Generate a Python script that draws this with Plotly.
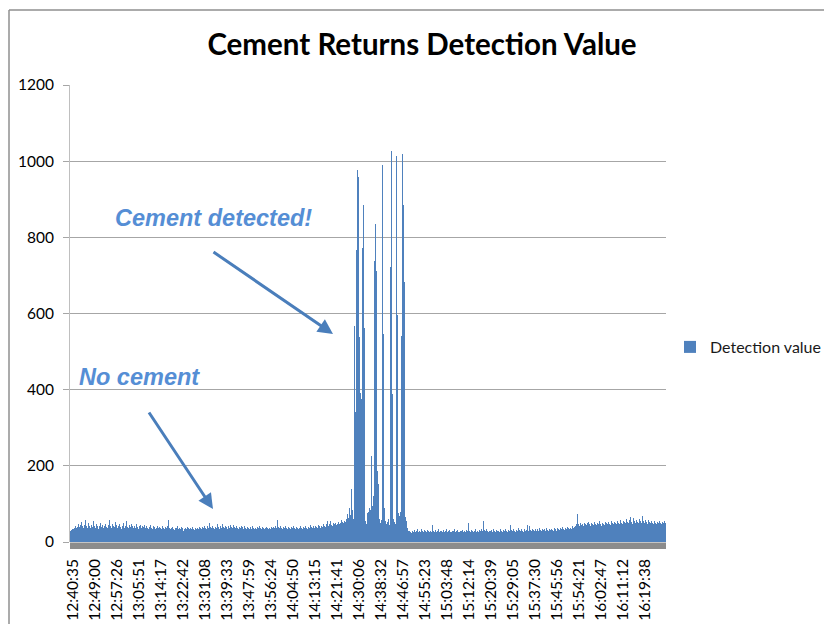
import plotly.graph_objects as go

# ---- tick labels (category axis, one label every 22 samples) ----
time_labels = ["12:40:35", "12:49:00", "12:57:26", "13:05:51", "13:14:17", "13:22:42",
               "13:31:08", "13:39:33", "13:47:59", "13:56:24", "14:04:50", "14:13:15",
               "14:21:41", "14:30:06", "14:38:32", "14:46:57", "14:55:23", "15:03:48",
               "15:12:14", "15:20:39", "15:29:05", "15:37:30", "15:45:56", "15:54:21",
               "16:02:47", "16:11:12", "16:19:38"]

# ---- detection values (one value per pixel column) ----
before_cement = [
    28, 31, 35, 33, 38, 42, 36, 40, 47, 39, 44, 52, 41, 37, 45, 58, 43, 38, 49, 41, 36, 44, 40, 55, 42,
    38, 46, 41, 35, 43, 50, 39, 44, 37, 42, 48, 40, 36, 45, 57, 41, 38, 47, 43, 39, 52, 44, 37, 41, 46,
    40, 35, 43, 49, 38, 42, 56, 40, 37, 44, 39, 46, 41, 36, 43, 38, 47, 40, 35, 42, 45, 37, 41, 39, 44,
    36, 41, 38, 33, 40, 44, 37, 35, 42, 39, 34, 38, 43, 36, 40, 37, 33, 41, 38, 35, 39, 36, 42, 59, 38,
    34, 37, 40, 35, 32, 38, 36, 41, 34, 37, 33, 39, 36, 30, 35, 38, 34, 40, 36, 33, 37, 35, 39, 34, 31,
    36, 33, 38, 35, 40, 37, 34, 39, 36, 42, 38, 35, 41, 37, 50, 39, 36, 43, 38, 34, 40, 37, 48, 39, 35,
    41, 38, 46, 40, 36, 43, 39, 35, 42, 38, 44, 40, 37, 45, 39, 36, 41, 38, 34, 40, 37, 43, 39, 35, 42,
    38, 34, 40, 36, 33, 39, 35, 41, 37, 34, 38, 35, 40, 36, 42, 38, 35, 39, 36, 33, 37, 40, 36, 34, 38,
    35, 39, 36, 40, 37, 42, 38, 57, 40, 36, 41, 38, 35, 39, 36, 43, 38, 34, 40, 37, 35, 39, 36, 41, 38,
    35, 39, 36, 33, 38, 41, 37, 34, 40, 36, 42, 38, 35, 39, 37, 44, 39, 36, 41, 38, 43, 40, 37, 45, 41,
    38, 43, 40, 46, 42, 39, 47, 56, 43, 48, 54, 45, 42, 49, 46, 51, 44, 48, 53, 47, 50, 58, 52, 49, 55,
]

cement_zone = [
    52, 60, 74, 62, 90, 70, 140, 85, 60,
    568, 342, 766, 976, 958, 537, 390, 375, 771, 884, 563,
    55, 48, 75, 80, 90, 85, 226, 95, 120, 739, 834, 711, 187, 152, 60, 50, 58,
    989, 547, 90, 55, 48, 52, 60, 45, 721, 1026, 389, 60, 52, 48, 1013, 595, 75, 68, 80,
    542, 1018, 884, 684, 65, 55, 38, 30, 28,
]

after_cement = [
    26, 24, 29, 27, 31, 25, 28, 33, 26, 30, 27, 35, 29, 25, 31, 28, 26, 32, 29, 27,
    30, 26, 44, 28, 25, 31, 27, 29, 33, 26, 28, 30, 25, 32, 27, 29, 34, 26, 28, 31,
    27, 25, 30, 28, 33, 26, 29, 31, 27, 25, 30, 28, 32, 26, 29, 27, 31, 28, 49, 30,
    27, 32, 28, 25, 30, 33, 27, 29, 26, 31, 28, 35, 30, 54, 31, 28, 33, 29, 26, 30,
    28, 31, 27, 34, 29, 26, 32, 28, 30, 27, 33, 29, 26, 31, 28, 35, 30, 27, 32, 29,
    45, 31, 28, 33, 30, 27, 32, 29, 36, 31, 28, 34, 30, 27, 33, 29, 31, 44, 30, 42,
    32, 29, 35, 31, 28, 34, 30, 33, 29, 36, 32, 29, 35, 31, 33, 30, 37, 32, 29, 34,
    31, 35, 32, 29, 36, 33, 30, 38, 34, 31, 36, 33, 39, 35, 32, 37, 34, 40, 36, 33,
    38, 35, 41, 37, 39, 43,
]

late_period = [
    48, 73, 46, 43, 50, 45, 48, 42, 51, 47, 44, 49, 53, 46, 43, 50, 47, 45, 52, 48,
    44, 50, 46, 55, 48, 43, 51, 47, 45, 53, 49, 46, 52, 48, 44, 56, 50, 47, 53, 49,
    46, 54, 50, 47, 58, 51, 48, 55, 52, 49, 60, 53, 50, 57, 66, 52, 48, 63, 55, 50,
    58, 53, 49, 61, 54, 51, 67, 55, 50, 57, 52, 48, 59, 53, 50, 56, 51, 47, 54, 50,
    46, 53, 49, 56, 51, 47, 52, 49, 54, 50,
]

values = before_cement + cement_zone + after_cement + late_period
sample_index = list(range(len(values)))
label_step = 22
label_positions = [2 + label_step * k for k in range(len(time_labels))]

BAR = "#4F81BD"
ANN_TEXT = "#558ED5"
ARROW = "#4A7EBB"

# the page body adds an 8 px margin; the figure is sized to end at the window edge
OFF = 8
FW, FH = 832 - OFF, 624 - OFF
PL, PT = 70 - OFF, 85 - OFF      # plot area left/top inside the figure
PW, PH = 596, 457

fig = go.Figure()
fig.add_trace(go.Bar(
    x=sample_index, y=values, name="Detection value",
    marker=dict(color=BAR, line=dict(width=0)),
    showlegend=True,
))

fig.update_layout(
    width=FW, height=FH, autosize=False,
    margin=dict(l=PL, r=FW - PL - PW, t=PT, b=FH - PT - PH, pad=0, autoexpand=False),
    paper_bgcolor="white", plot_bgcolor="white",
    bargap=0,
    showlegend=True,
    title=dict(text="<b>Cement Returns Detection Value</b>",
               font=dict(family="Lato", size=29.5, color="black"),
               x=(422 - OFF) / FW, xref="container", xanchor="center",
               y=1 - (45 - OFF) / FH, yref="container", yanchor="middle"),
    font=dict(family="Lato", size=15, color="black"),
    legend=dict(xref="container", yref="container", x=(670 - OFF) / FW, y=1 - (347 - OFF) / FH,
                xanchor="left", yanchor="middle", font=dict(family="Lato", size=16, color="#1a1a1a"),
                itemwidth=30, bgcolor="rgba(0,0,0,0)"),
    xaxis=dict(range=[-0.5, len(values) - 0.5], tickmode="array",
               tickvals=label_positions, ticktext=time_labels, tickangle=-90,
               showgrid=False, zeroline=False, showline=False, ticks="",
               tickfont=dict(family="Lato", size=15.5, color="black"),
               ticklabelstandoff=13, automargin=False),
    yaxis=dict(range=[0, 1200], tick0=0, dtick=200, showline=True, linecolor="#bfbfbf",
               linewidth=1, ticks="outside", ticklen=6, tickcolor="#a6a6a6",
               gridcolor="#a6a6a6", gridwidth=1, zeroline=False,
               tickfont=dict(family="Lato", size=15.5, color="black"),
               ticklabelstandoff=6, automargin=False),
)

# helpers: page pixel -> paper coordinates of the plot area
def px_x(p):
    return (p - 70) / PW

def px_y(p):
    return (542 - p) / PH

shapes = [
    # grey floor band under the bars
    dict(type="rect", xref="paper", yref="paper", x0=0, x1=1, y0=px_y(549), y1=px_y(542.5),
         fillcolor="#8c8c8c", line=dict(width=0), layer="above"),
    # chart-area border (top and left edges)
    dict(type="line", xref="paper", yref="paper", x0=px_x(9), x1=px_x(845), y0=px_y(10), y1=px_y(10),
         line=dict(color="#8f8f8f", width=1.5)),
    dict(type="line", xref="paper", yref="paper", x0=px_x(9), x1=px_x(9), y0=px_y(10), y1=px_y(640),
         line=dict(color="#8f8f8f", width=1.5)),
]
fig.update_layout(shapes=shapes)

annotations = [
    dict(text="<b><i>Cement detected!</i></b>", xref="paper", yref="paper",
         x=px_x(213), y=px_y(218), xanchor="center", yanchor="middle", showarrow=False,
         font=dict(family="Liberation Sans", size=23.5, color=ANN_TEXT)),
    dict(text="<b><i>No cement</i></b>", xref="paper", yref="paper",
         x=px_x(139), y=px_y(377), xanchor="center", yanchor="middle", showarrow=False,
         font=dict(family="Liberation Sans", size=23.5, color=ANN_TEXT)),
    dict(text="", xref="paper", yref="paper", x=px_x(333), y=px_y(334),
         axref="pixel", ayref="pixel", ax=212 - 333, ay=251 - 334,
         showarrow=True, arrowhead=2, arrowsize=1, arrowwidth=3, arrowcolor=ARROW),
    dict(text="", xref="paper", yref="paper", x=px_x(213), y=px_y(509),
         axref="pixel", ayref="pixel", ax=148 - 213, ay=411 - 509,
         showarrow=True, arrowhead=2, arrowsize=1, arrowwidth=3, arrowcolor=ARROW),
]
fig.update_layout(annotations=annotations)

fig.write_html("out.html")
